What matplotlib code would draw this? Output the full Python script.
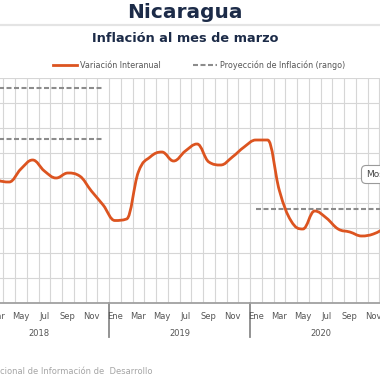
"""Nicaragua: inflación interanual, recorte de la vista del tablero."""

import matplotlib
matplotlib.use("Agg")
import matplotlib.pyplot as plt
from matplotlib.lines import Line2D
from matplotlib.path import Path
from matplotlib.patches import PathPatch
import matplotlib.transforms as mtransforms

MONTHS = ["Ene", "Feb", "Mar", "Abr", "May", "Jun",
          "Jul", "Ago", "Sep", "Oct", "Nov", "Dic"]
YEARS = ["2018", "2019", "2020"]

# variación interanual (%), ene-2018 .. dic-2020
inflation = [5.50, 5.20, 4.92, 4.84, 5.36, 5.72, 5.28, 5.00, 5.20, 5.08, 4.48, 3.92,
             3.30, 3.36, 5.24, 5.84, 6.04, 5.68, 6.08, 6.36, 5.64, 5.52, 5.84, 6.24,
             6.52, 6.52, 4.50, 3.28, 2.96, 3.68, 3.40, 2.96, 2.84, 2.68, 2.76, 3.00]

# proyección de inflación (rango) por año
proj_2018 = [6.55, 8.60]
proj_2020 = [3.75]

ORANGE = "#dc5420"
NAVY = "#1c2b48"
GRID = "#d6d6d6"

W = H = 380


def px_x(x):
    return x / W


def px_y(y):
    return (H - y) / H


def spline_path(xs, ys, smoothing=1.5):
    """Bezier path through the points, same idea as a Highcharts spline."""
    n = len(xs)
    lc, rc = [None] * n, [None] * n
    for i in range(n):
        if 0 < i < n - 1:
            d = smoothing + 1
            px, py = xs[i], ys[i]
            lx, ly = xs[i - 1], ys[i - 1]
            nx, ny = xs[i + 1], ys[i + 1]
            lcx, lcy = (smoothing * px + lx) / d, (smoothing * py + ly) / d
            rcx, rcy = (smoothing * px + nx) / d, (smoothing * py + ny) / d
            corr = (rcy - lcy) * (rcx - px) / (rcx - lcx) + py - rcy
            lcy += corr
            rcy += corr
            if lcy > ly and lcy > py:
                lcy = max(ly, py); rcy = 2 * py - lcy
            elif lcy < ly and lcy < py:
                lcy = min(ly, py); rcy = 2 * py - lcy
            if rcy > ny and rcy > py:
                rcy = max(ny, py); lcy = 2 * py - rcy
            elif rcy < ny and rcy < py:
                rcy = min(ny, py); lcy = 2 * py - rcy
            lc[i], rc[i] = (lcx, lcy), (rcx, rcy)
        else:
            lc[i] = rc[i] = (xs[i], ys[i])
    verts = [(xs[0], ys[0])]
    codes = [Path.MOVETO]
    for i in range(1, n):
        verts += [rc[i - 1], lc[i], (xs[i], ys[i])]
        codes += [Path.CURVE4] * 3
    return Path(verts, codes)


fig = plt.figure(figsize=(3.8, 3.8), dpi=100)
fig.patch.set_facecolor("white")

# plot area: bottom at 303 px, top at 78 px, months 11.75 px wide
ax = fig.add_axes([0, px_y(303), 1, (303 - 78) / H])

n = len(inflation)
xs = list(range(n))

ax.set_xticks([k - 0.5 for k in range(n + 1)], minor=True)
ax.set_xticks([])
ax.set_yticks(range(1, 10))
ax.set_yticklabels([])
ax.tick_params(which="both", length=0)
ax.grid(which="minor", axis="x", color=GRID, lw=0.8)
ax.grid(which="major", axis="y", color=GRID, lw=0.8)
for s in ["left", "right", "top"]:
    ax.spines[s].set_visible(False)
ax.spines["bottom"].set_color("#a0a0a0")
ax.spines["bottom"].set_linewidth(1.3)

# projection ranges
for v in proj_2018:
    ax.plot([0, 11], [v, v], color="#8c8c8c", lw=1.5, dashes=(2.4, 1.2), zorder=2)
for v in proj_2020:
    ax.plot([24, 35], [v, v], color="#8c8c8c", lw=1.5, dashes=(2.4, 1.2), zorder=2)

ax.add_patch(PathPatch(spline_path(xs, inflation), fill=False, edgecolor=ORANGE,
                       lw=2.0, zorder=3, capstyle="round", joinstyle="round"))

# limits last, ticks can widen them
ax.set_xlim(32 / 11.75 - 0.5, 412 / 11.75 - 0.5)
ax.set_ylim(0, 9)

# month and year labels
trans = mtransforms.blended_transform_factory(ax.transData, ax.transAxes)
for k in range(0, n, 2):
    ax.annotate(MONTHS[k % 12], (k, 0), xycoords=trans, xytext=(0, -9.4),
                textcoords="offset points", ha="center", va="center",
                fontsize=6, color="#555555", annotation_clip=False)
for i, yr in enumerate(YEARS):
    ax.annotate(yr, (i * 12 + 5.5, 0), xycoords=trans, xytext=(0, -21.6),
                textcoords="offset points", ha="center", va="center",
                fontsize=6, color="#555555", annotation_clip=False)
for b in [11.5, 23.5]:
    ax.plot([b, b], [0, -34 / 225], transform=trans, color="#8a8a8a",
            lw=1.3, clip_on=False)

# titles and header rule
fig.text(px_x(185), px_y(18), "Nicaragua", ha="center", va="baseline",
         fontsize=14.5, fontweight="bold", color=NAVY)
fig.add_artist(Line2D([0, 1], [px_y(25), px_y(25)], color="#e4e4e4", lw=1.6))
fig.text(px_x(185), px_y(42), "Inflación al mes de marzo", ha="center",
         va="baseline", fontsize=9.3, fontweight="bold", color=NAVY)

# legend
ly = px_y(65)
fig.add_artist(Line2D([px_x(53), px_x(77)], [ly, ly], color=ORANGE, lw=2.0))
fig.text(px_x(80), ly, "Variación Interanual", ha="left", va="center",
         fontsize=5.8, color="#555555")
fig.add_artist(Line2D([px_x(193), px_x(217)], [ly, ly], color="#8c8c8c",
                      lw=1.5, dashes=(2.4, 1.2)))
fig.text(px_x(220), ly, "Proyección de Inflación (rango)", ha="left",
         va="center", fontsize=5.8, color="#555555")

# tooltip cut by the right edge
fig.text(px_x(366), px_y(174.5), "Mostrar", ha="left", va="center",
         fontsize=6.5, color="#444444",
         bbox=dict(boxstyle="round,pad=0.5", fc="white", ec="#9a9a9a", lw=0.8))

# source, cut by the left edge
fig.text(0, px_y(374), "cional de Información de  Desarrollo", ha="left",
         va="baseline", fontsize=6, color="#a5a5a5")

fig.savefig("out.png", dpi=100, facecolor="white")
